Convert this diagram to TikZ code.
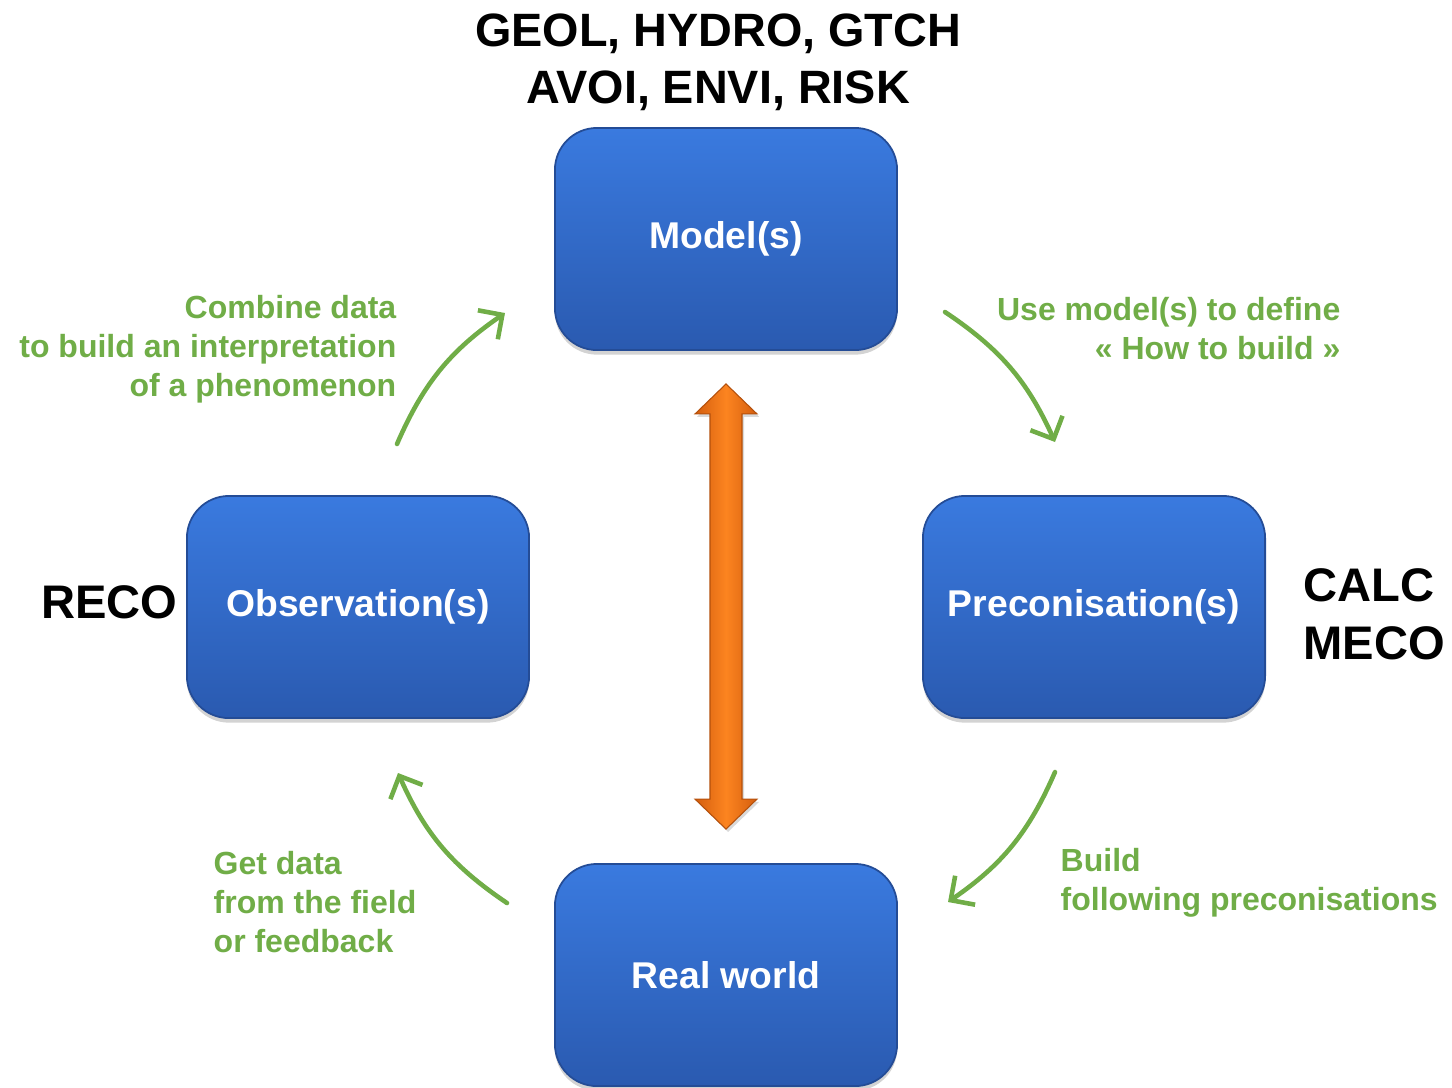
\documentclass[tikz,border=0pt]{standalone}
\usepackage{fontspec}
\setmainfont{Liberation Sans}
\usepackage{tikz}
\usetikzlibrary{arrows.meta,calc,shadows}
\definecolor{boxtop}{RGB}{58,122,223}
\definecolor{boxbot}{RGB}{42,90,176}
\definecolor{boxline}{RGB}{36,76,150}
\definecolor{orgmid}{RGB}{252,132,32}
\definecolor{orgedge}{RGB}{212,94,14}
\definecolor{leaf}{RGB}{112,173,71}
\begin{document}
\begin{tikzpicture}[x=0.01cm,y=-0.01cm,
  block/.style={rectangle,rounded corners=0.42cm,minimum width=3.42cm,minimum height=2.22cm,
    top color=boxtop,bottom color=boxbot,draw=boxline,line width=0.5pt,text=white,
    font=\fontsize{10.6}{12}\selectfont\bfseries,
    drop shadow={shadow xshift=0pt,shadow yshift=-1.3pt,opacity=0.35}},
  tag/.style={inner sep=0pt,font=\fontsize{13.4}{16.5}\selectfont\bfseries},
  note/.style={inner sep=0pt,text=leaf,font=\fontsize{9.1}{11.1}\selectfont\bfseries},
  flow/.style={draw=leaf,line width=1.3pt,line cap=round,-{Straight Barb[length=5pt,width=10pt]}}]
\useasboundingbox (0,0) rectangle (1452,1087);
\node[block] (model) at (726,239) {\raisebox{-1pt}{Model(s)}};
\node[block] (obs) at (358,607) {\raisebox{-1pt}{Observation(s)}};
\node[block] (preco) at (1094,607) {\raisebox{-1pt}{Preconisation(s)}};
\node[block] (real) at (726,975) {\raisebox{-1pt}{Real world}};
\node[tag,align=center,font=\fontsize{13.3}{16.2}\selectfont\bfseries] (domains) at (718,62) {GEOL, HYDRO, GTCH\\AVOI, ENVI, RISK};
\node[tag,anchor=east] (reco) at (178,602) {RECO};
\node[tag,anchor=west,align=left] (calc) at (1303,614) {CALC\\MECO};
\node[note,anchor=east,align=right] (combine) at (397,349) {Combine data\\to build an interpretation\\of a phenomenon};
\node[note,anchor=east,align=right] (use) at (1341,329) {Use model(s) to define\\« How to build »};
\node[note,anchor=west,align=left] (get) at (213,902) {Get data\\from the field\\or feedback};
\node[note,anchor=west,align=left] (build) at (1060,883) {Build\\following preconisations};
\coordinate (a1) at (397,444); \coordinate (b1) at (505,313);
\coordinate (a2) at (945,312); \coordinate (b2) at (1055,442);
\coordinate (a3) at (1055,772); \coordinate (b3) at (948,902);
\coordinate (a4) at (507,903); \coordinate (b4) at (398,773);
\draw[flow] (a1) to[bend left=16] (b1);
\draw[flow] (a2) to[bend left=16] (b2);
\draw[flow] (a3) to[bend left=16] (b3);
\draw[flow] (a4) to[bend left=16] (b4);
\coordinate (up) at ($(model.south)+(0,33)$);
\coordinate (down) at ($(real.north)+(0,-34)$);
\shade[left color=orgedge,right color=orgedge,middle color=orgmid,draw=orgedge!85!black,line width=0.3pt,
  drop shadow={shadow xshift=0.6pt,shadow yshift=-0.8pt,opacity=0.3}]
  (up) -- ++(31,30) -- ++(-15,0) -- ($(down)+(16,-30)$) -- ++(15,0) -- (down)
  -- ++(-31,-30) -- ++(15,0) -- ($(up)+(-16,30)$) -- ++(-15,0) -- cycle;
\end{tikzpicture}
\end{document}
